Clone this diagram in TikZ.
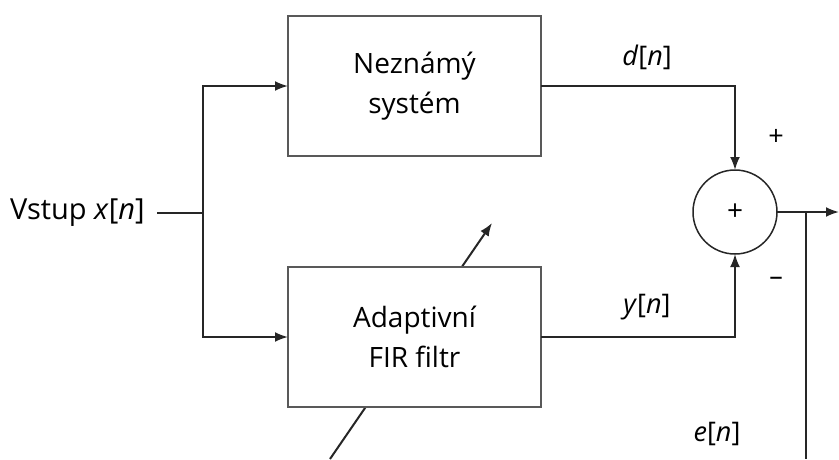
\documentclass[tikz,border=0pt]{standalone}
\usepackage{fontspec}
\setmainfont{Open Sans}
\usepackage{tikz}
\usetikzlibrary{positioning,arrows.meta,calc}

\begin{document}
\begin{tikzpicture}[
            x=1pt, y=-1pt,
            outer sep=0pt,
            % Style pro bloky
            blok/.style={
                draw=black!65,
                line width=2.5pt,
                fill=white,
                minimum width=253pt,
                minimum height=140pt,
                align=center,
                font=\fontsize{28}{40}\selectfont
            },
            % Style pro scitacku
            soucet/.style={
                draw=black!85,
                line width=1.5pt,
                circle,
                minimum size=84pt,
                inner sep=0pt,
                font=\fontsize{28}{30}\selectfont
            },
            % Style pro popisky
            popis/.style={
                font=\fontsize{27}{32}\selectfont
            },
            znak/.style={
                font=\fontsize{27}{30}\selectfont
            },
            sig/.style={
                draw=black!85,
                line width=2pt,
                -{Latex[length=13pt,width=10pt]}
            },
            vodic/.style={
                draw=black!85,
                line width=2pt
            }
        ]
            \useasboundingbox (0,0) rectangle (839,459);

            % VSTUP A ROZBOCENI
            \node[popis, anchor=east, font=\fontsize{29}{34}\selectfont] (vstup) at (148,213) {Vstup \textit{x}[\textit{n}]};
            \coordinate (rozb) at (203,213);

            % ADAPTACNI SIPKA (pod blokem, blok ji zakryje)
            \coordinate (adaptA) at (330,459);
            \coordinate (adaptB) at (492,223);
            \draw[sig] (adaptA) -- (adaptB);

            % BLOKY
            \node[blok] (system) at (414.5,86) {Neznámý\\systém};
            \node[blok] (filtr) at (414.5,337) {Adaptivní\\FIR filtr};

            % SCITACKA
            \node[soucet] (sum) at (735,212) {+};
            \node[znak] (plus) at (776,137) {+};
            \node[znak] (minus) at (776,281) {–};

            % VYSTUP A CHYBA
            \coordinate (vystup) at (839,212);
            \coordinate (odb) at (806,212);
            \coordinate (chyba) at (806,459);

            % SPOJE
            \draw[vodic] ([xshift=9pt]vstup.east) -- (rozb);
            \draw[sig] (rozb) |- (system.west);
            \draw[sig] (rozb) |- (filtr.west);
            \draw[sig] (system.east) -| (sum.north);
            \draw[sig] (filtr.east) -| (sum.south);
            \draw[sig] (sum.east) -- (vystup);
            \draw[vodic] (odb) -- (chyba);

            % POPISKY SIGNALU
            \node[popis] (dn) at (647,57) {\textit{d}[\textit{n}]};
            \node[popis] (yn) at (647,307) {\textit{y}[\textit{n}]};
            \node[popis] (en) at (717,434) {\textit{e}[\textit{n}]};

        \end{tikzpicture}
\end{document}
